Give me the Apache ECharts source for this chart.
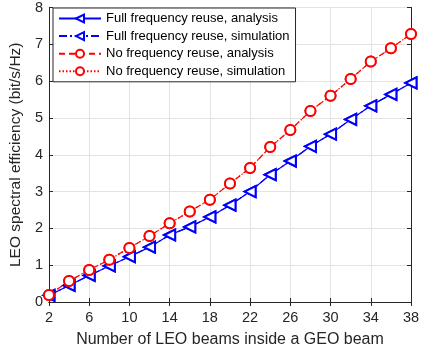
<!DOCTYPE html>
<html><head><meta charset="utf-8">
<script src="https://cdn.jsdelivr.net/npm/echarts@6/dist/echarts.min.js"></script>
<style>html,body{margin:0;padding:0;background:#fff}#c{width:439px;height:356px}</style>
</head><body><div id="c"></div>
<script>
const beams = [2,4,6,8,10,12,14,16,18,20,22,24,26,28,30,32,34,36,38];
const fullAnalysis = [0.18,0.45,0.72,0.98,1.23,1.49,1.82,2.04,2.31,2.63,3.00,3.46,3.83,4.23,4.56,4.96,5.33,5.64,5.95];
const fullSimulation = [0.18,0.45,0.72,0.98,1.23,1.49,1.82,2.04,2.31,2.63,3.00,3.46,3.83,4.23,4.56,4.96,5.33,5.64,5.95];
const noAnalysis = [0.19,0.57,0.87,1.15,1.47,1.79,2.14,2.46,2.78,3.22,3.64,4.21,4.67,5.19,5.60,6.06,6.53,6.89,7.28];
const noSimulation = [0.19,0.57,0.87,1.15,1.47,1.79,2.14,2.46,2.78,3.22,3.64,4.21,4.67,5.19,5.60,6.06,6.53,6.89,7.28];
const seriesNames = ['Full frequency reuse, analysis','Full frequency reuse, simulation','No frequency reuse, analysis','No frequency reuse, simulation'];

const pts = a => beams.map((x,i)=>[x,a[i]]);
const font = 'Liberation Sans, Arial, sans-serif';
const axisCol = '#262626';
const chart = echarts.init(document.getElementById('c'));
function mk(name, data, color, type, symbol, rot) {
  return {name, type:'line', data:pts(data), symbol, symbolSize: symbol==='emptyCircle'?10:11, symbolRotate: rot,
    lineStyle:{color, width:1.2, type}, itemStyle:{color, borderColor:color, borderWidth:1.4}, showSymbol:true, z:3, animation:false};
}
chart.setOption({
  animation:false,
  grid:{left:48, right:28, top:1, bottom:54},
  legend:{left:53, top:8, orient:'vertical', itemGap:4.6, itemWidth:42, itemHeight:10,
    backgroundColor:'#fff', borderColor:axisCol, borderWidth:1, padding:[4,6,4,5],
    textStyle:{fontFamily:font, fontSize:13, color:'#000', lineHeight:13}, data:seriesNames},
  xAxis:[{type:'value', min:2, max:38, interval:4, name:'Number of LEO beams inside a GEO beam',
    nameLocation:'middle', nameGap:30, nameTextStyle:{fontFamily:font, fontSize:16, color:axisCol},
    axisLine:{lineStyle:{color:axisCol}}, axisTick:{inside:true, length:4, lineStyle:{color:axisCol}},
    axisLabel:{fontFamily:font, fontSize:14.5, color:axisCol, margin:8},
    splitLine:{show:true, lineStyle:{color:'#e3e3e3'}}},
    {type:'value', position:'top', min:2, max:38, interval:4, axisLine:{lineStyle:{color:axisCol}},
    axisTick:{inside:true, length:4, lineStyle:{color:axisCol}}, axisLabel:{show:false}, splitLine:{show:false}}],
  yAxis:[{type:'value', min:0, max:8, interval:1, name:'LEO spectral efficiency (bit/s/Hz)',
    nameLocation:'middle', nameGap:20, nameTextStyle:{fontFamily:font, fontSize:15.5, color:axisCol},
    axisLine:{show:true, lineStyle:{color:axisCol}}, axisTick:{show:true, inside:true, length:4, lineStyle:{color:axisCol}},
    axisLabel:{fontFamily:font, fontSize:14.5, color:axisCol, margin:6},
    splitLine:{show:true, lineStyle:{color:'#e3e3e3'}}},
    {type:'value', position:'right', min:0, max:8, interval:1, axisLine:{show:true, lineStyle:{color:axisCol}},
    axisTick:{show:true, inside:true, length:4, lineStyle:{color:axisCol}}, axisLabel:{show:false}, splitLine:{show:false}}],
  series:[
    mk(seriesNames[0], fullAnalysis, '#0000ff', 'solid', 'emptyTriangle', 90),
    mk(seriesNames[1], fullSimulation, '#0000ff', [8,3,2,3], 'emptyTriangle', 90),
    mk(seriesNames[2], noAnalysis, '#ff0000', [6,4], 'emptyCircle', 0),
    mk(seriesNames[3], noSimulation, '#ff0000', [1.5,2], 'emptyCircle', 0)
  ]
});
</script></body></html>
